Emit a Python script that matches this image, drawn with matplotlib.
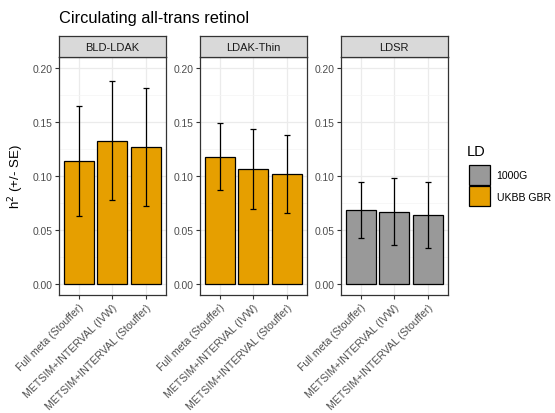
import matplotlib
matplotlib.use("Agg")
import matplotlib.pyplot as plt
from matplotlib.patches import Patch
import numpy as np

plt.rcParams['font.family'] = ['Liberation Sans', 'DejaVu Sans']

# data
methods = ["BLD-LDAK", "LDAK-Thin", "LDSR"]
ld_ref = ["UKBB GBR", "UKBB GBR", "1000G"]
cohorts = ["Full meta (Stouffer)", "METSIM+INTERVAL (IVW)", "METSIM+INTERVAL (Stouffer)"]
h2 = [[0.114, 0.133, 0.127],
      [0.118, 0.107, 0.102],
      [0.069, 0.067, 0.064]]
se = [[0.051, 0.055, 0.055],
      [0.031, 0.037, 0.036],
      [0.026, 0.031, 0.031]]

colours = {"1000G": "#999999", "UKBB GBR": "#E69F00"}

fig = plt.figure(figsize=(5.55, 4.14), dpi=100)
W, H = 555.0, 414.0
lefts = [59, 200, 341]
pw = 106.5
top, bottom = 57.5, 296
strip_h = 20.8

for i, m in enumerate(methods):
    ax = fig.add_axes([lefts[i] / W, 1 - bottom / H, pw / W, (bottom - top) / H])
    x = np.arange(1, 4)
    ax.set_axisbelow(True)
    ax.grid(True, color="#EBEBEB", linewidth=0.9)
    ax.set_yticks([0.025, 0.075, 0.125, 0.175], minor=True)
    ax.grid(True, which="minor", axis="y", color="#F4F4F4", linewidth=0.5)
    ax.bar(x, h2[i], width=0.9, color=colours[ld_ref[i]], edgecolor="black", linewidth=0.9, zorder=2)
    ax.errorbar(x, h2[i], yerr=se[i], fmt="none", ecolor="black", elinewidth=0.9,
                capsize=2.4, capthick=0.9, zorder=3)
    ax.set_xlim(0.4, 3.6)
    ax.set_ylim(-0.0102, 0.2111)
    ax.set_yticks([0.0, 0.05, 0.10, 0.15, 0.20])
    ax.set_yticklabels(["0.00", "0.05", "0.10", "0.15", "0.20"])
    ax.set_xticks(x)
    ax.set_xticklabels(cohorts, rotation=45, ha="right", va="top", rotation_mode="anchor")
    ax.tick_params(axis="y", which="major", labelsize=7.4, colors="#333333",
                   labelcolor="#4D4D4D", length=2.7, width=0.8, pad=2)
    ax.tick_params(axis="x", which="major", labelsize=7.6, colors="#333333",
                   labelcolor="#4D4D4D", length=2.7, width=0.8, pad=2)
    ax.tick_params(axis="y", which="minor", length=0)
    for s in ax.spines.values():
        s.set_color("#333333")
        s.set_linewidth(0.9)
    # facet strip
    sax = fig.add_axes([lefts[i] / W, 1 - top / H, pw / W, strip_h / H])
    sax.set_facecolor("#D9D9D9")
    sax.set_xticks([])
    sax.set_yticks([])
    for s in sax.spines.values():
        s.set_color("#333333")
        s.set_linewidth(0.9)
    sax.text(0.5, 0.48, m, ha="center", va="center", fontsize=8, color="#1A1A1A",
             transform=sax.transAxes)

fig.text(59 / W, 1 - 19 / H, "Circulating all-trans retinol", fontsize=11.8,
         ha="left", va="center", color="black")
fig.text(16 / W, 1 - 177 / H, "h$^2$ (+/- SE)", rotation=90, fontsize=9.5,
         ha="center", va="center")

# legend title drawn separately so the keys can sit a bit lower
fig.text(467 / W, 1 - 152 / H, "LD", fontsize=10.5, ha="left", va="center")
handles = [Patch(facecolor=colours[k], edgecolor="black", linewidth=0.9) for k in ["1000G", "UKBB GBR"]]
leg = fig.legend(handles, ["1000G", "UKBB GBR"], loc="upper left",
                 bbox_to_anchor=(467 / W, 1 - 164 / H), frameon=False, fontsize=7.6,
                 handlelength=1.95, handleheight=2.5,
                 handletextpad=0.65, labelspacing=0.15, borderaxespad=0, borderpad=0.2)

fig.savefig("out.png", dpi=100)
